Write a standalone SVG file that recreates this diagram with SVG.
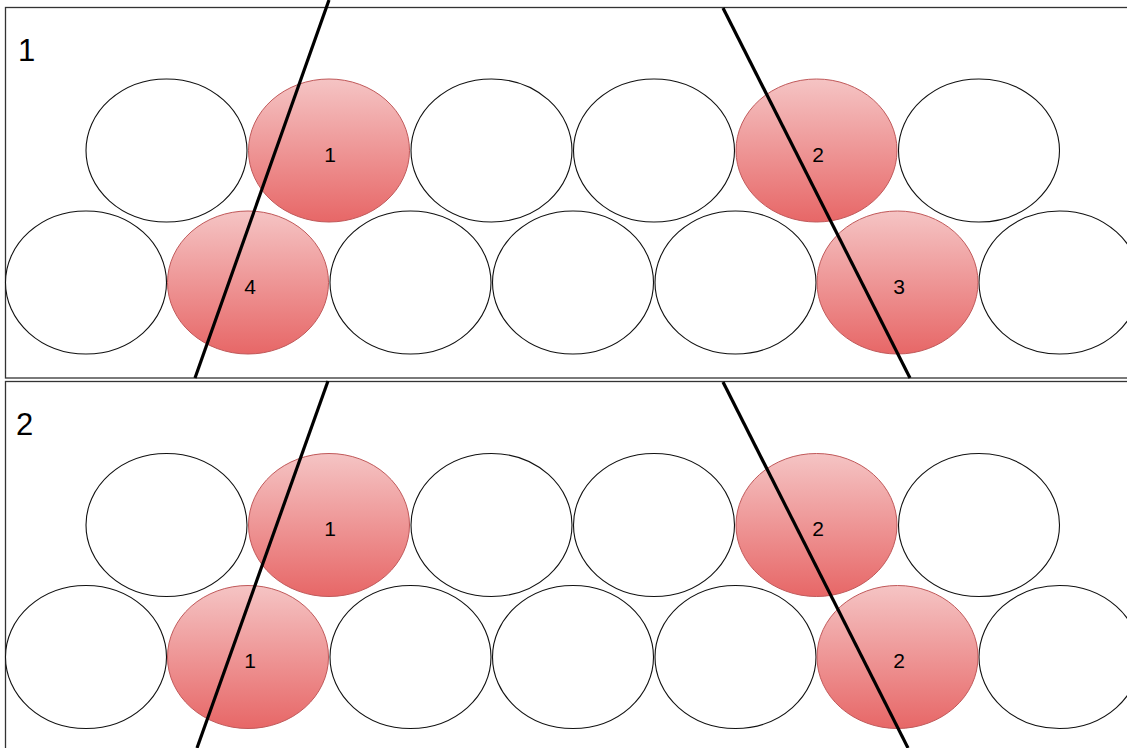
<svg xmlns="http://www.w3.org/2000/svg" width="1127" height="748" viewBox="0 0 1127 748">
<style>
.panel{fill:#fff;stroke:#333;stroke-width:1.3}
.c{fill:#fff;stroke:#111;stroke-width:1.1}
.r{fill:url(#rg);stroke:#c0595a;stroke-width:1}
.t{font-family:"Liberation Sans",Arial,sans-serif;font-size:21px;fill:#000;text-anchor:middle}
.pl{font-family:"Liberation Sans",Arial,sans-serif;font-size:31px;fill:#000}
.cut{stroke:#000;stroke-width:3.2;fill:none}
</style>
<defs>
<linearGradient id="rg" x1="0" y1="0" x2="0" y2="1">
<stop offset="0" stop-color="#f5c4c4"/>
<stop offset="1" stop-color="#e76767"/>
</linearGradient>
<g id="row">
<ellipse class="c" cx="166.5" cy="150.5" rx="80.5" ry="71.5"/>
<ellipse class="c" cx="491.5" cy="150.5" rx="80.5" ry="71.5"/>
<ellipse class="c" cx="654" cy="150.5" rx="80.5" ry="71.5"/>
<ellipse class="c" cx="979" cy="150.5" rx="80.5" ry="71.5"/>
<ellipse class="c" cx="86" cy="282.5" rx="80.5" ry="71.5"/>
<ellipse class="c" cx="410.5" cy="282.5" rx="80.5" ry="71.5"/>
<ellipse class="c" cx="573" cy="282.5" rx="80.5" ry="71.5"/>
<ellipse class="c" cx="735.5" cy="282.5" rx="80.5" ry="71.5"/>
<ellipse class="c" cx="1059.5" cy="282.5" rx="80.5" ry="71.5"/>
<ellipse class="r" cx="329" cy="150.5" rx="80.5" ry="71.5"/>
<ellipse class="r" cx="816.5" cy="150.5" rx="80.5" ry="71.5"/>
<ellipse class="r" cx="248" cy="282.5" rx="80.5" ry="71.5"/>
<ellipse class="r" cx="897.5" cy="282.5" rx="80.5" ry="71.5"/>
</g>
</defs>
<rect width="1127" height="748" fill="#fff"/>
<g id="panel1">
<rect class="panel" x="5.5" y="7.5" width="1125" height="370.5"/>
<text class="pl" x="18" y="61">1</text>
<use href="#row"/>
</g>
<g id="panel2">
<rect class="panel" x="5.5" y="381.5" width="1125" height="380"/>
<text class="pl" x="16" y="435">2</text>
<use href="#row" y="374.5"/>
</g>
<g id="connectors">
<line class="cut" x1="329" y1="0" x2="195" y2="378"/>
<line class="cut" x1="723" y1="8" x2="910" y2="378"/>
<line class="cut" x1="328" y1="381" x2="197" y2="748"/>
<line class="cut" x1="723" y1="382" x2="908" y2="748"/>
</g>
<g id="labels">
<text class="t" x="330" y="162">1</text>
<text class="t" x="818" y="162">2</text>
<text class="t" x="250" y="294">4</text>
<text class="t" x="899" y="294">3</text>
<text class="t" x="330" y="536">1</text>
<text class="t" x="818" y="536">2</text>
<text class="t" x="250" y="668">1</text>
<text class="t" x="899" y="668">2</text>
</g>
</svg>
